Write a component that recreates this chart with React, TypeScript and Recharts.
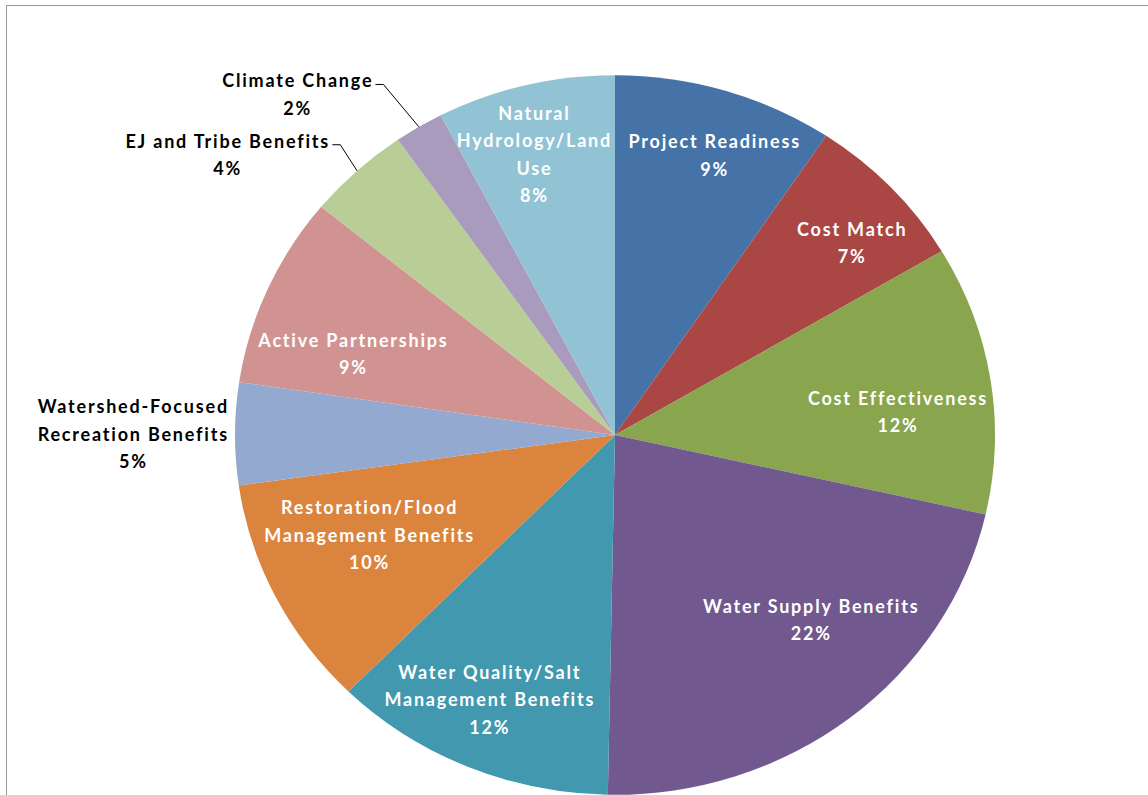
import React from 'react';
import { PieChart, Pie, Cell } from 'recharts';

// slice names (line breaks as in the original labels)
const categories = [
  'Project Readiness',
  'Cost Match',
  'Cost Effectiveness',
  'Water Supply Benefits',
  'Water Quality/Salt\nManagement Benefits',
  'Restoration/Flood\nManagement Benefits',
  'Watershed-Focused\nRecreation Benefits',
  'Active Partnerships',
  'EJ and Tribe Benefits',
  'Climate Change',
  'Natural\nHydrology/Land\nUse',
];

// share of total
const shares = [9.4, 7.1, 12.1, 21.8, 12.1, 10.4, 4.6, 8.6, 4.4, 2.1, 7.6];

const colors = [
  '#4572A7', '#AA4643', '#89A54E', '#71588F', '#4198AF', '#DB843D',
  '#93A9CF', '#D19392', '#B9CD96', '#A99BBD', '#91C3D5',
];

// which labels sit outside the pie
const outside = [false, false, false, false, false, false, true, false, true, true, false];
// with a leader line
const leader = [false, false, false, false, false, false, false, false, true, true, false];

// label placement: radius as a fraction of the pie radius, and a clockwise nudge in degrees
const labelR = [0.82, 0.82, 0.745, 0.726, 0.806, 0.705, 1.27, 0.727, 1.285, 1.264, 0.81];
const labelNudge = [1.6, 2.8, 4, -7, 1.5, 3.6, 0, -5.7, -9.9, -10.4, -1.7];

const data = categories.map((name, i) => ({ name, value: shares[i] }));

const RAD = Math.PI / 180;
const SQUASH = 0.947; // the original pie is slightly flattened
const FONT = 'bold 18px Lato';
const SPACING = 1.8;
const LINE_H = 27.5;

let ctx: CanvasRenderingContext2D | null = null;
const textWidth = (s: string) => {
  if (!ctx) ctx = document.createElement('canvas').getContext('2d');
  if (!ctx) return s.length * 10.5;
  ctx.font = FONT;
  return ctx.measureText(s).width + s.length * SPACING;
};

const ellipsePoint = (cx: number, cy: number, r: number, angle: number) => ({
  x: cx + r * Math.cos(angle * RAD),
  y: cy - r * SQUASH * Math.sin(angle * RAD),
});

const FlatSector = (props: any) => {
  const { cx, cy, outerRadius, startAngle, endAngle, fill } = props;
  const a = ellipsePoint(cx, cy, outerRadius, startAngle);
  const b = ellipsePoint(cx, cy, outerRadius, endAngle);
  const large = Math.abs(startAngle - endAngle) > 180 ? 1 : 0;
  const sweep = startAngle > endAngle ? 1 : 0;
  const d = `M${cx},${cy} L${a.x},${a.y} A${outerRadius},${outerRadius * SQUASH} 0 ${large} ${sweep} ${b.x},${b.y} Z`;
  return <path d={d} fill={fill} stroke="none" />;
};

const renderLabel = (props: any) => {
  const { cx, cy, midAngle, outerRadius, percent, index, name } = props;
  const pos = ellipsePoint(cx, cy, outerRadius * labelR[index], midAngle - labelNudge[index]);
  const lines = [...String(name).split('\n'), `${Math.round(percent * 100)}%`];
  const top = pos.y - ((lines.length - 1) * LINE_H) / 2;
  const color = outside[index] ? '#000' : '#fff';

  let line = null;
  if (leader[index]) {
    const edge = ellipsePoint(cx, cy, outerRadius, midAngle);
    const right = pos.x + textWidth(lines[0]) / 2;
    const y = top + 4;
    line = (
      <polyline
        points={`${right + 3},${y} ${right + 11},${y} ${edge.x},${edge.y}`}
        fill="none"
        stroke="#000"
        strokeWidth={1}
      />
    );
  }

  return (
    <g>
      {line}
      {lines.map((t, i) => (
        <text
          key={i}
          x={pos.x + SPACING / 2}
          y={top + i * LINE_H}
          fill={color}
          textAnchor="middle"
          dominantBaseline="central"
          style={{ font: FONT, letterSpacing: SPACING }}
        >
          {t}
        </text>
      ))}
    </g>
  );
};

export default function App() {
  return (
    <div style={{ position: 'fixed', left: 0, top: 0, width: 1148, height: 795, overflow: 'hidden', background: '#fff' }}>
      <div
        style={{
          position: 'absolute',
          left: 6,
          top: 5,
          width: 1160,
          height: 820,
          borderTop: '1px solid #999',
          borderLeft: '1px solid #999',
        }}
      />
      <div style={{ position: 'absolute', left: 0, top: 0 }}>
        <PieChart width={1148} height={795} margin={{ top: 0, right: 0, bottom: 0, left: 0 }}>
          <Pie
            data={data}
            dataKey="value"
            nameKey="name"
            cx={615}
            cy={435}
            outerRadius={380}
            startAngle={90}
            endAngle={-270}
            shape={FlatSector}
            label={renderLabel}
            labelLine={false}
            isAnimationActive={false}
          >
            {data.map((d, i) => (
              <Cell key={d.name} fill={colors[i]} />
            ))}
          </Pie>
        </PieChart>
      </div>
    </div>
  );
}
